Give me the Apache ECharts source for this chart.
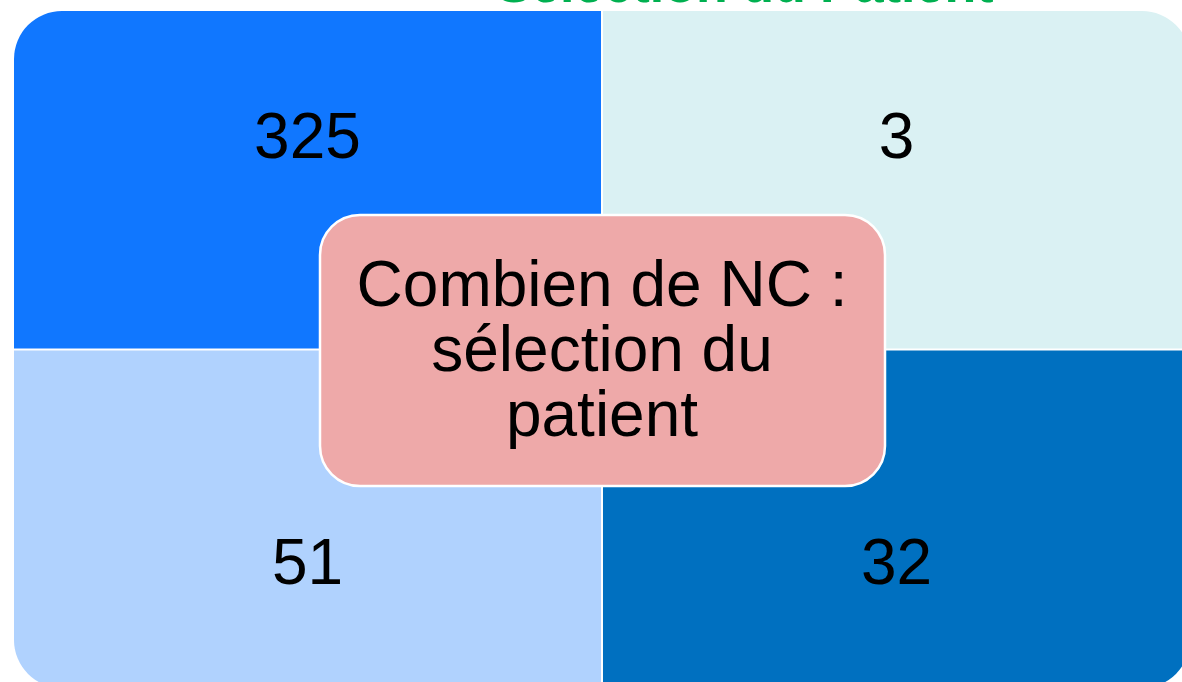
<!DOCTYPE html>
<html>
<head>
<meta charset="utf-8">
<script src="https://cdn.jsdelivr.net/npm/echarts@6/dist/echarts.min.js"></script>
<style>
  html, body { margin: 0; padding: 0; background: #fff; overflow: hidden; }
  #chart { width: 1200px; height: 700px; }
</style>
</head>
<body>
<div id="chart"></div>
<script>
// colonnes / lignes de la matrice 2x2
const columns = ['gauche', 'droite']
const rows = ['bas', 'haut']
// [colonne, ligne, nombre de NC]
const cellValues = [
  [0, 1, 325],
  [1, 1, 3],
  [0, 0, 51],
  [1, 0, 32]
]
const cellColors = ['#1077FF', '#DAF1F3', '#B0D2FE', '#0070C0'] // couleurs des cases
const titleText = 'Sélection du Patient'
const centerText = 'Combien de NC :\nsélection du\npatient'

const FONT = '"Liberation Sans", Arial, sans-serif'
const R = 48 // arrondi des coins extérieurs

const chart = echarts.init(document.getElementById('chart'))

const option = {
  animation: false,
  grid: { left: 14, top: 11, width: 1176, height: 677 },
  xAxis: { type: 'category', data: columns, show: false },
  yAxis: { type: 'category', data: rows, show: false },
  series: [{
    type: 'custom',
    z: 2,
    data: cellValues,
    renderItem: function (params, api) {
      const xi = api.value(0)
      const yi = api.value(1)
      const c = api.coord([xi, yi])
      const s = api.size([1, 1])
      let x = c[0] - s[0] / 2
      let y = c[1] - s[1] / 2
      let w = s[0]
      let h = s[1]
      // petit espace blanc entre les cases
      if (xi === 0) { w -= 1 } else { x += 1; w -= 1 }
      if (yi === 1) { h -= 1 } else { y += 1; h -= 1 }
      const radius = [
        xi === 0 && yi === 1 ? R : 0,
        xi === 1 && yi === 1 ? R : 0,
        xi === 1 && yi === 0 ? R : 0,
        xi === 0 && yi === 0 ? R : 0
      ]
      return {
        type: 'group',
        children: [{
          type: 'rect',
          shape: { x: x, y: y, width: w, height: h, r: radius },
          style: { fill: cellColors[params.dataIndex] }
        }, {
          type: 'text',
          style: {
            text: String(api.value(2)),
            x: x + w / 2,
            y: yi === 1 ? y + 129 : y + h - 122,
            align: 'center',
            verticalAlign: 'middle',
            font: '64px ' + FONT,
            fill: '#000'
          }
        }]
      }
    }
  }],
  graphic: {
    elements: [{
      type: 'text',
      x: 745,
      y: -12,
      z: 100,
      style: {
        text: titleText,
        align: 'center',
        verticalAlign: 'middle',
        font: 'bold 52px ' + FONT,
        fill: '#00B050'
      }
    }, {
      type: 'rect',
      x: 320,
      y: 215,
      z: 100,
      shape: { x: 0, y: 0, width: 565, height: 271, r: 40 },
      style: { fill: '#EEA9A9', stroke: '#fff', lineWidth: 2.5 }
    }, {
      type: 'text',
      x: 602,
      y: 353,
      z: 101,
      style: {
        text: centerText,
        align: 'center',
        verticalAlign: 'middle',
        font: '64px ' + FONT,
        lineHeight: 65,
        fill: '#000'
      }
    }]
  }
}

chart.setOption(option)
</script>
</body>
</html>
